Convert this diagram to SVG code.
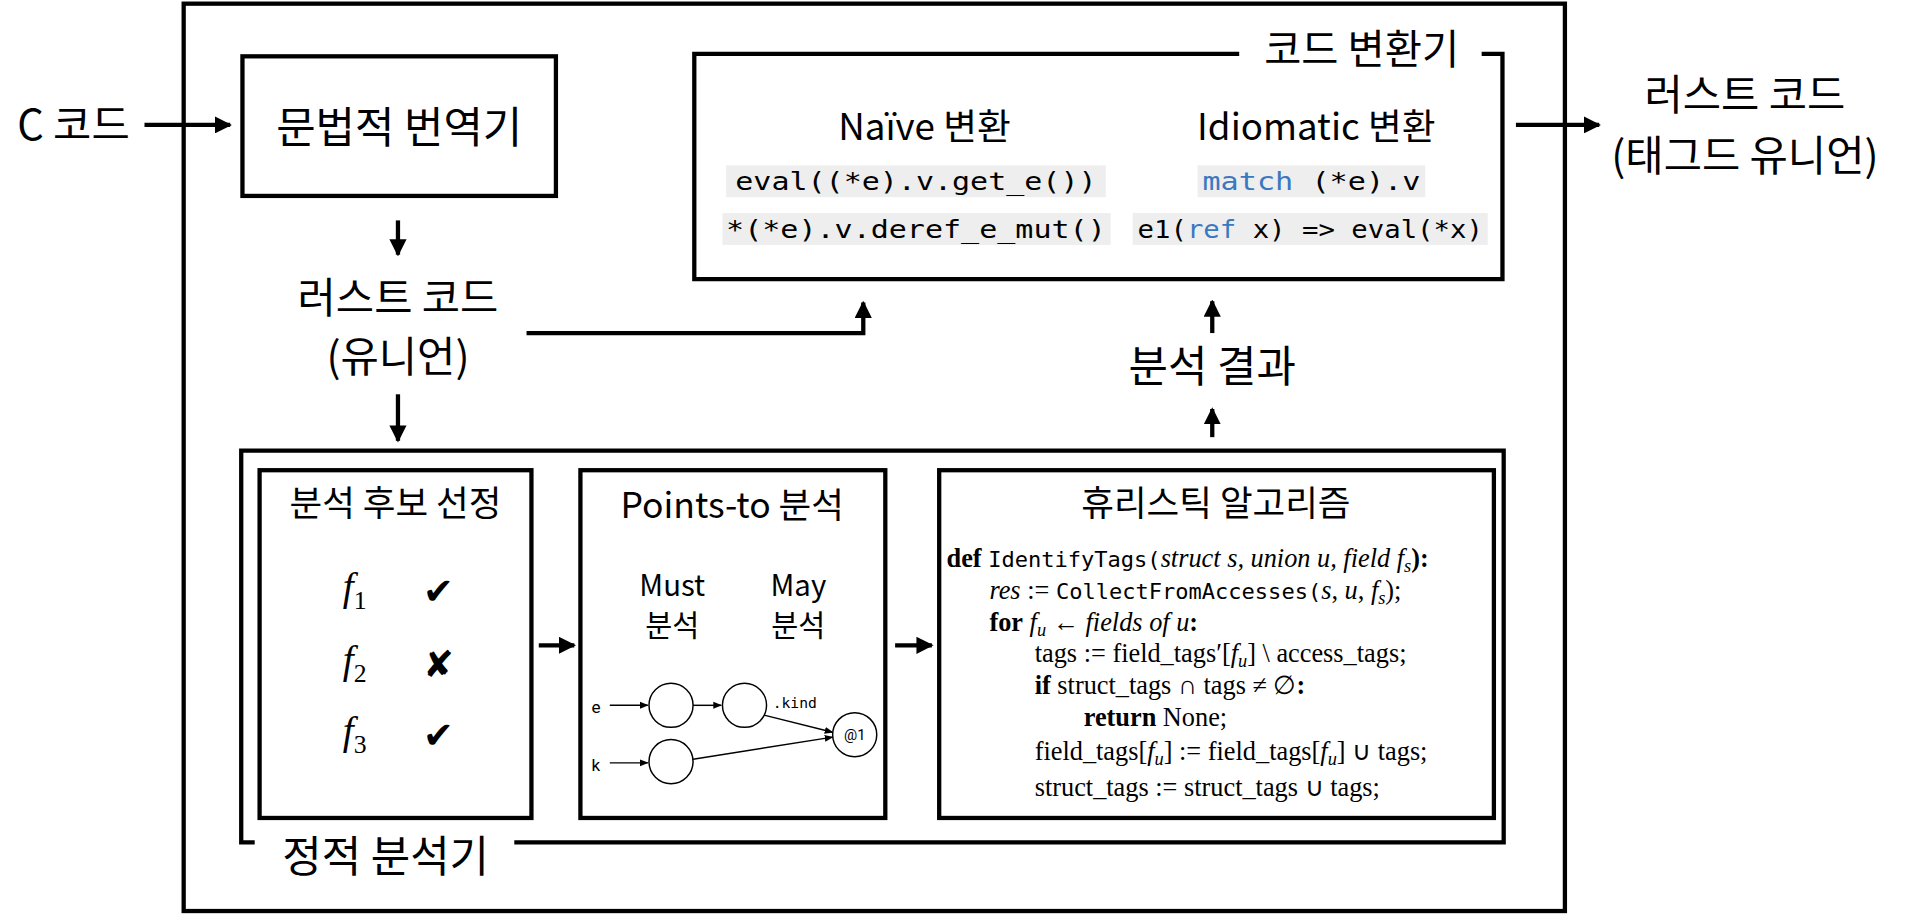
<svg xmlns="http://www.w3.org/2000/svg" width="1920" height="916" viewBox="0 0 1920 916">
<style>
.b{fill:none;stroke:#000;stroke-width:3.5}
.k{font-family:"Noto Sans CJK KR","Noto Sans",sans-serif;fill:#000;text-anchor:middle}
.m{font-family:"DejaVu Sans Mono","Liberation Mono",monospace;font-size:20px;text-anchor:middle}
.s{font-family:"Liberation Serif",serif;font-size:21.5px}
.cm{font-family:"DejaVu Sans Mono",monospace;font-size:18px}
.kw{fill:#3a78c0}
.ln{stroke:#000;stroke-width:3.5;fill:none}
.tn{stroke:#000;stroke-width:1.2;fill:none}
</style>
<defs>
<marker id="a" viewBox="0 0 10 10" refX="9" refY="5" markerWidth="4" markerHeight="4" orient="auto" markerUnits="strokeWidth"><path d="M0,0L10,5L0,10z"/></marker>
<marker id="t" viewBox="0 0 10 10" refX="9" refY="5" markerWidth="6" markerHeight="6" orient="auto" markerUnits="strokeWidth"><path d="M0,1L10,5L0,9z"/></marker>
</defs>
<rect width="1920" height="916" fill="#fff"/>
<g transform="scale(1.2245)">
<rect x="150" y="3" width="1128" height="741" class="b"/>
<g id="connectors">
<path class="ln" d="M118,102H188" marker-end="url(#a)"/>
<path class="ln" d="M325,180V208" marker-end="url(#a)"/>
<path class="ln" d="M430,272H705V247" marker-end="url(#a)"/>
<path class="ln" d="M325,322V360" marker-end="url(#a)"/>
<path class="ln" d="M1238,102H1306" marker-end="url(#a)"/>
<path class="ln" d="M990,272V246" marker-end="url(#a)"/>
<path class="ln" d="M990,357V334" marker-end="url(#a)"/>
<path class="ln" d="M440,527H469" marker-end="url(#a)"/>
<path class="ln" d="M731,527H761" marker-end="url(#a)"/>
</g>
<g id="c-code"><text class="k" x="60" y="114" font-size="34">C 코드</text></g>
<g id="translator"><rect x="198" y="46" width="256" height="114" class="b"/><text class="k" x="326" y="117" font-size="35">문법적 번역기</text></g>
<g id="rust-union"><text class="k" x="325" y="256" font-size="34">러스트 코드</text><text class="k" x="325" y="304" font-size="34">(유니언)</text></g>
<g id="rust-tagged"><text class="k" x="1425" y="90" font-size="34">러스트 코드</text><text class="k" x="1425" y="140" font-size="34">(태그드 유니언)</text></g>
<g id="result"><text class="k" x="990" y="312" font-size="35">분석 결과</text></g>
<g id="transformer">
<path class="b" d="M1012,44H567V228H1227V44H1210"/>
<text class="k" x="1112" y="52" font-size="33">코드 변환기</text>
<text class="k" x="755" y="114" font-size="30">Naïve 변환</text>
<text class="k" x="1075" y="114" font-size="30">Idiomatic 변환</text>
<rect x="593" y="135" width="310" height="26" fill="#eee"/>
<rect x="590" y="174" width="317" height="26" fill="#eee"/>
<rect x="978" y="135" width="186" height="26" fill="#eee"/>
<rect x="925" y="174" width="290" height="26" fill="#eee"/>
<text class="m" x="748" y="155" textLength="295" lengthAdjust="spacingAndGlyphs">eval((*e).v.get_e())</text>
<text class="m" x="748" y="194" textLength="310" lengthAdjust="spacingAndGlyphs">*(*e).v.deref_e_mut()</text>
<text class="m" x="1071" y="155" textLength="178" lengthAdjust="spacingAndGlyphs"><tspan class="kw">match</tspan> (*e).v</text>
<text class="m" x="1070" y="194" textLength="282" lengthAdjust="spacingAndGlyphs">e1(<tspan class="kw">ref</tspan> x) =&gt; eval(*x)</text>
</g>
<g id="static-analyzer">
<path class="b" d="M208,688H197V368H1228V688H420"/>
<text class="k" x="315" y="712" font-size="35">정적 분석기</text>
</g>
<g id="candidates">
<rect x="212" y="384" width="222" height="284" class="b"/>
<text class="k" x="323" y="421" font-size="29">분석 후보 선정</text>
<g font-family="Liberation Serif,serif" font-style="italic" font-size="32">
<text x="280" y="490">f<tspan font-size="21" dy="7" font-style="normal">1</tspan></text>
<text x="280" y="550">f<tspan font-size="21" dy="7" font-style="normal">2</tspan></text>
<text x="280" y="608">f<tspan font-size="21" dy="7" font-style="normal">3</tspan></text>
</g>
<g font-family="DejaVu Sans,sans-serif" font-size="30" text-anchor="middle">
<text x="358" y="493">✔</text><text x="358" y="553">✘</text><text x="358" y="611">✔</text>
</g>
</g>
<g id="points-to">
<rect x="474" y="384" width="249" height="284" class="b"/>
<text class="k" x="598" y="423" font-size="29">Points-to 분석</text>
<text class="k" x="549" y="487" font-size="24">Must</text><text class="k" x="549" y="519" font-size="24">분석</text>
<text class="k" x="652" y="487" font-size="24">May</text><text class="k" x="652" y="519" font-size="24">분석</text>
<g font-family="Roboto,sans-serif" font-size="14">
<text x="483" y="582">e</text><text x="483" y="630">k</text>
<text x="631" y="578" font-family="DejaVu Sans Mono,monospace" font-size="12">.kind</text>
<text x="698" y="604" text-anchor="middle" font-size="12">@1</text>
</g>
<circle cx="548" cy="576" r="18" class="tn"/><circle cx="608" cy="576" r="18" class="tn"/>
<circle cx="548" cy="622" r="18" class="tn"/><circle cx="698" cy="600" r="18" class="tn"/>
<path class="tn" d="M498,576H529" marker-end="url(#t)"/>
<path class="tn" d="M566,576H589" marker-end="url(#t)"/>
<path class="tn" d="M624,584L680,598" marker-end="url(#t)"/>
<path class="tn" d="M498,623H529" marker-end="url(#t)"/>
<path class="tn" d="M566,620L680,602" marker-end="url(#t)"/>
</g>
<g id="heuristic">
<rect x="767" y="384" width="453" height="284" class="b"/>
<text class="k" x="993" y="421" font-size="29">휴리스틱 알고리즘</text>
<g class="s">
<text x="773" y="463"><tspan font-weight="bold">def</tspan> <tspan class="cm">IdentifyTags(</tspan><tspan font-style="italic">struct s, union u, field f<tspan font-size="15" dy="4">s</tspan></tspan><tspan dy="-4" font-weight="bold">):</tspan></text>
<text x="808" y="489"><tspan font-style="italic">res</tspan> := <tspan class="cm">CollectFromAccesses(</tspan><tspan font-style="italic">s</tspan>, <tspan font-style="italic">u</tspan>, <tspan font-style="italic">f<tspan font-size="15" dy="4">s</tspan></tspan><tspan dy="-4">);</tspan></text>
<text x="808" y="515"><tspan font-weight="bold">for</tspan> <tspan font-style="italic">f<tspan font-size="15" dy="4">u</tspan></tspan><tspan dy="-4"> ← </tspan><tspan font-style="italic">fields of u</tspan><tspan font-weight="bold">:</tspan></text>
<text x="845" y="541">tags := field_tags′[<tspan font-style="italic">f<tspan font-size="15" dy="4">u</tspan></tspan><tspan dy="-4">] \ access_tags;</tspan></text>
<text x="845" y="567"><tspan font-weight="bold">if</tspan> struct_tags ∩ tags ≠ ∅<tspan font-weight="bold">:</tspan></text>
<text x="885" y="593"><tspan font-weight="bold">return</tspan> None;</text>
<text x="845" y="621">field_tags[<tspan font-style="italic">f<tspan font-size="15" dy="4">u</tspan></tspan><tspan dy="-4">] := field_tags[</tspan><tspan font-style="italic">f<tspan font-size="15" dy="4">u</tspan></tspan><tspan dy="-4">] ∪ tags;</tspan></text>
<text x="845" y="650">struct_tags := struct_tags ∪ tags;</text>
</g>
</g>
</g>
</svg>
